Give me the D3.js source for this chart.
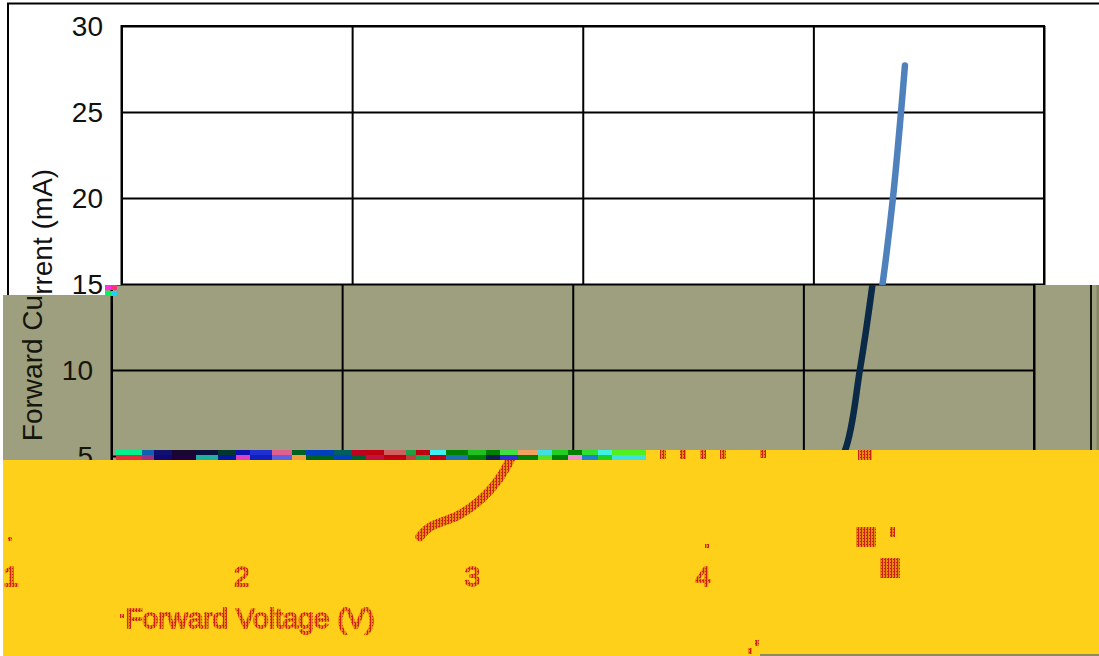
<!DOCTYPE html>
<html><head><meta charset="utf-8">
<script src="https://cdn.jsdelivr.net/npm/d3@7"></script>
<style>html,body{margin:0;padding:0;background:#fff;overflow:hidden}svg{display:block}text{font-family:"Liberation Sans",Arial,sans-serif}</style>
</head><body><svg id="c" width="1099" height="656"></svg>
<script>
// chart values
const voltage = [2.772,2.816,2.946,3.076,3.18,3.245,3.30,3.345,3.38,3.397];
const current = [0.3,0.87,1.6,3.0,5.3,10,15,20,25,27.7];
const yTicks = [5,10,15,20,25,30];
const xTicks = [0,1,2,3,4];
const yTitle = "Forward Current (mA)";
const xTitle = "Forward Voltage (V)";
// damaged-image stripe: colours left to right, with their run lengths
const stripeTop = ["#00f08a","#1060b0","#101070","#180830","#081040","#003830","#1010b0","#2030d0","#e06090","#006020","#0040c0","#006060","#c00020","#c00010","#d06060","#20a040","#c00010","#40f0f0","#008000","#20c020","#008000","#40e040","#f0a060","#40e0e0","#20d020","#008000","#30e030","#40f0e0","#50f020"];
const stripeBot = ["#e03040","#a03080","#100870","#200040","#20b0a0","#0018a0","#e040c0","#1020c0","#6060e0","#f0a040","#006020","#0040c0","#006030","#c01040","#c00010","#c04040","#20a050","#c00010","#2070b0","#008000","#102050","#3030d0","#008000","#60e020","#008000","#f090d0","#2080d0","#20d020","#40e0e0"];
const stripeRun = [26,12,18,24,22,18,14,22,20,14,28,18,14,18,22,10,14,16,22,18,14,18,20,14,16,14,16,14,34];
const glitchPatches = [[856,527,20,20],[890,527,5,10],[880,558,20,20],[858,450,14,10],[705,544,4,4],[748,648,4,6],[755,640,4,6],[8,537,4,4],[120,614,4,4],[660,450,6,9],[680,450,6,9],[700,450,6,9],[720,450,6,9],[760,450,6,8]];

const svg = d3.select("#c");
const W = 1099, H = 656;
const x = d3.scaleLinear().domain([0,4]).range([121.5,1044]);
const y = d3.scaleLinear().domain([0,30]).range([542,26]);
const line = d3.line().x((d,i)=>x(voltage[i])).y(d=>y(d)).curve(d3.curveCatmullRom.alpha(0.5));

const defs = svg.append("defs");
const hatch = defs.append("pattern").attr("id","hatch").attr("width",3).attr("height",3).attr("patternUnits","userSpaceOnUse");
hatch.append("rect").attr("width",3).attr("height",3).attr("fill","#e8890f");
hatch.append("rect").attr("width",1).attr("height",3).attr("fill","#cf2016");
hatch.append("rect").attr("x",2).attr("y",1).attr("width",1).attr("height",1).attr("fill","#cf2016");

function clipPoly(id,pts){defs.append("clipPath").attr("id",id).append("polygon").attr("points",pts.map(p=>p.join(",")).join(" "));}
clipPoly("topB",[[0,0],[W,0],[W,285],[105,285],[105,295],[0,295]]);
clipPoly("midB",[[3,295],[105,295],[105,285],[W,285],[W,460],[3,460]]);
clipPoly("lowB",[[3,460],[W,460],[W,H],[3,H]]);

function frame(g,lineColor){
  g.append("path").attr("d",`M8,${H-1}V3.5H1101V${H-1}Z`).attr("fill","none").attr("stroke",lineColor).attr("stroke-width",2);
}
function grid(g,curveColor,textColor){
  const gx = d3.axisBottom(x).tickValues(xTicks).tickSize(y(0)-y(30)).tickFormat("");
  const gy = d3.axisLeft(y).tickValues(yTicks).tickSize(x(4)-x(0)).tickFormat("");
  const a = g.append("g").attr("transform",`translate(0,${y(30)})`).call(gx);
  const b = g.append("g").attr("transform",`translate(${x(4)},0)`).call(gy);
  [a,b].forEach(s=>{s.select(".domain").remove();s.selectAll("line").attr("stroke","#000").attr("stroke-width",2);});
  g.append("rect").attr("x",x(0)).attr("y",y(30)).attr("width",x(4)-x(0)).attr("height",y(0)-y(30)).attr("fill","none").attr("stroke","#000").attr("stroke-width",2);
  g.append("path").datum(current).attr("d",line).attr("fill","none").attr("stroke",curveColor).attr("stroke-width",6.5).attr("stroke-linecap","round");
  g.selectAll("text.yt").data(yTicks).join("text").attr("class","yt").attr("x",103).attr("y",d=>y(d)).attr("dy","0.35em").attr("text-anchor","end").attr("font-size",28).attr("fill",textColor).text(d=>d);
  g.append("text").attr("transform",`translate(52,305) rotate(-90)`).attr("text-anchor","middle").attr("font-size",28).attr("fill",textColor).text(yTitle);
}

// top band: untouched
const topBand = svg.append("g").attr("clip-path","url(#topB)");
topBand.append("rect").attr("width",W).attr("height",296).attr("fill","#fff");
frame(topBand,"#000");
grid(topBand,"#4f81bd","#111");

// middle band: shifted left 10 px, olive
const mid = svg.append("g").attr("clip-path","url(#midB)");
mid.append("rect").attr("width",W).attr("height",H).attr("fill","#9d9f7e");
const midInner = mid.append("g").attr("transform","translate(-10,0)");
grid(midInner,"#0a2a48","#15150c");
mid.append("line").attr("x1",1091).attr("x2",1091).attr("y1",285).attr("y2",460).attr("stroke","#10140c").attr("stroke-width",2);
mid.append("rect").attr("x",1096.5).attr("y",285).attr("width",3).attr("height",175).attr("fill","#85875f");

// damaged stripe inside the middle band
let sx = 116;
const stripe = svg.append("g");
stripeRun.forEach((r,i)=>{
  stripe.append("rect").attr("x",sx).attr("y",450).attr("width",r).attr("height",5).attr("fill",stripeTop[i]);
  stripe.append("rect").attr("x",sx).attr("y",455).attr("width",r).attr("height",5).attr("fill",stripeBot[i]);
  sx += r;
});
svg.append("rect").attr("x",sx).attr("y",450).attr("width",W-sx).attr("height",10).attr("fill","#ffd01a");
[[105,285,"#ff30e0"],[111,285,"#ff3080"],[105,291,"#00f060"],[111,291,"#20d0f0"]].forEach(c=>{
  svg.append("rect").attr("x",c[0]).attr("y",c[1]).attr("width",6).attr("height",5).attr("fill",c[2]);
});

// low band: shifted left 341 px, flat yellow with hatched remnants
const low = svg.append("g").attr("clip-path","url(#lowB)");
low.append("rect").attr("width",W).attr("height",H).attr("fill","#ffd01a");
const lowInner = low.append("g").attr("transform","translate(-341,0)");
lowInner.append("path").datum(current).attr("d",line).attr("fill","none").attr("stroke","url(#hatch)").attr("stroke-width",9).attr("stroke-linecap","round");
lowInner.selectAll("text.xt").data(xTicks.slice(1)).join("text").attr("class","xt").attr("x",d=>x(d)).attr("y",586).attr("text-anchor","middle").attr("font-size",28).attr("fill","url(#hatch)").attr("stroke","url(#hatch)").attr("stroke-width",1.5).text(d=>d);
lowInner.append("text").attr("x",591).attr("y",628).attr("text-anchor","middle").attr("font-size",28).attr("fill","url(#hatch)").attr("stroke","url(#hatch)").attr("stroke-width",1.5).text(xTitle);
glitchPatches.forEach(p=>{svg.append("rect").attr("x",p[0]).attr("y",p[1]).attr("width",p[2]).attr("height",p[3]).attr("fill","url(#hatch)");});
svg.append("line").attr("x1",760).attr("x2",1099).attr("y1",655).attr("y2",655).attr("stroke","#8d8a5a").attr("stroke-width",2);
</script></body></html>
